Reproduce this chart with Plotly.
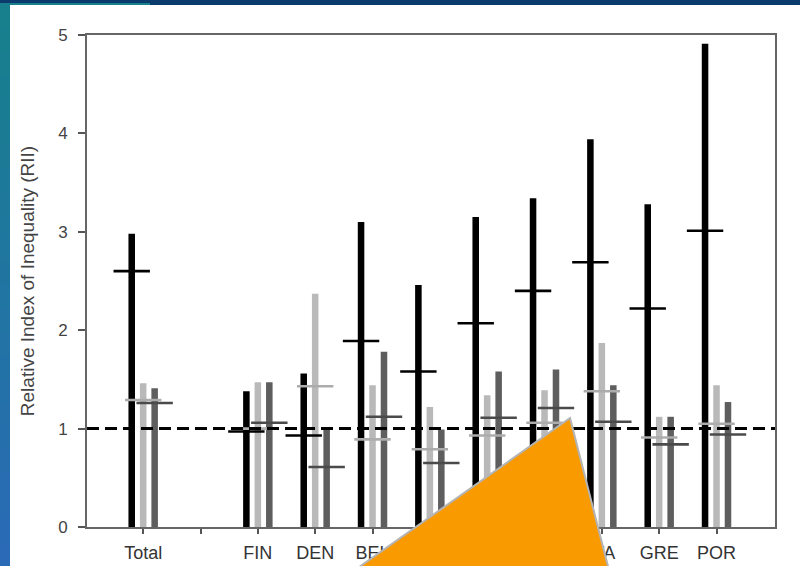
import plotly.graph_objects as go

# ---------------- data ----------------
categories = ["Total", "", "FIN", "DEN", "BEL", "NET", "GER", "FRA", "ITA", "GRE", "POR"]
positions = list(range(len(categories)))

black_top = [2.98, None, 1.38, 1.56, 3.10, 2.46, 3.15, 3.34, 3.94, 3.28, 4.91]
black_est = [2.60, None, 0.97, 0.93, 1.89, 1.58, 2.07, 2.40, 2.69, 2.22, 3.01]
light_top = [1.46, None, 1.47, 2.37, 1.44, 1.22, 1.34, 1.39, 1.87, 1.12, 1.44]
light_est = [1.29, None, 1.00, 1.43, 0.89, 0.79, 0.93, 1.06, 1.38, 0.91, 1.05]
dark_top = [1.41, None, 1.47, 0.99, 1.78, 0.99, 1.58, 1.60, 1.44, 1.12, 1.27]
dark_est = [1.26, None, 1.06, 0.61, 1.12, 0.65, 1.11, 1.21, 1.07, 0.84, 0.94]

y_ticks = [0, 1, 2, 3, 4, 5]
ref_line = 1.0
y_title = "Relative Index of Inequality (RII)"

# ---------------- layout geometry ----------------
W, H = 800, 566
L, R, T, B = 87, 25, 35, 39
PW, PH = W - L - R, H - T - B


def px(x):
    return (x - L) / PW


def py(y):
    return (H - B - y) / PH


series = [
    ("black", black_top, black_est, "#000000", "#000000"),
    ("light", light_top, light_est, "#b9b9b9", "#acacac"),
    ("dark", dark_top, dark_est, "#5e5e5e", "#4a4a4a"),
]

fig = go.Figure()
for name, tops, ests, col, mcol in series:
    fig.add_trace(go.Bar(
        x=positions, y=tops, name=name, offsetgroup=name,
        marker=dict(color=col, line=dict(width=0)), showlegend=False,
        hoverinfo="skip",
    ))
for name, tops, ests, col, mcol in series:
    fig.add_trace(go.Scatter(
        x=positions, y=ests, mode="markers", offsetgroup=name, showlegend=False,
        hoverinfo="skip",
        marker=dict(symbol="line-ew", size=26, color=mcol,
                    line=dict(color=mcol, width=2.6)),
    ))

shapes = []
# reference line
shapes.append(dict(type="line", xref="paper", yref="y", x0=0, x1=1,
                   y0=ref_line, y1=ref_line,
                   line=dict(color="#000000", width=3, dash="12px,6px"),
                   layer="above"))

# slide decorations: top band
shapes.append(dict(type="rect", xref="paper", yref="paper",
                   x0=px(0), x1=px(W), y0=py(0), y1=py(5),
                   fillcolor="#0b3a6c", line=dict(width=0), layer="above"))
shapes.append(dict(type="rect", xref="paper", yref="paper",
                   x0=px(0), x1=px(150), y0=py(3), y1=py(5),
                   fillcolor="#17808c", line=dict(width=0), layer="above"))
# left strip gradient teal -> blue
n = 24
c0 = (0x17, 0x80, 0x8c)
c1 = (0x2a, 0x6a, 0xb6)
for i in range(n):
    t = i / (n - 1)
    c = tuple(int(round(a + (b - a) * t)) for a, b in zip(c0, c1))
    y0 = 5 + (H - 5) * i / n
    y1 = 5 + (H - 5) * (i + 1) / n + 1
    shapes.append(dict(type="rect", xref="paper", yref="paper",
                       x0=px(0), x1=px(10), y0=py(y0), y1=py(y1),
                       fillcolor="rgb(%d,%d,%d)" % c, line=dict(width=0),
                       layer="above"))

# orange occluding triangle
tri = [(570, 418), (338, 582), (612, 582)]
path = "M {} {} L {} {} L {} {} Z".format(
    px(tri[0][0]), py(tri[0][1]), px(tri[1][0]), py(tri[1][1]),
    px(tri[2][0]), py(tri[2][1]))
shapes.append(dict(type="path", xref="paper", yref="paper", path=path,
                   fillcolor="#f89a00", line=dict(color="#b4b4b4", width=2),
                   layer="above"))

fig.update_layout(
    width=W, height=H,
    margin=dict(l=L, r=R, t=T, b=B, pad=0, autoexpand=False),
    paper_bgcolor="#ffffff", plot_bgcolor="#ffffff",
    barmode="group", bargap=0.4, bargroupgap=0.43,
    scattermode="group", scattergap=0.4,
    font=dict(family="Liberation Sans, Arial, sans-serif", color="#333333", size=17),
    shapes=shapes,
    showlegend=False,
    hovermode=False,
)
fig.update_xaxes(
    range=[-0.98, 11.02], tickmode="array", tickvals=positions, ticktext=categories,
    ticks="outside", ticklen=5, tickwidth=1.5, tickcolor="#555555",
    ticklabelstandoff=3, automargin=False,
    showline=True, linecolor="#666666", linewidth=2, mirror=True,
    showgrid=False, zeroline=False, fixedrange=True,
    tickfont=dict(size=18, color="#333333"),
)
fig.update_yaxes(
    range=[0, 5], tickmode="array", tickvals=y_ticks,
    ticks="outside", ticklen=7, tickwidth=1.5, tickcolor="#555555",
    ticklabelstandoff=7, automargin=False,
    showline=True, linecolor="#666666", linewidth=2, mirror=True,
    showgrid=False, zeroline=False, fixedrange=True,
    tickfont=dict(size=17, color="#444444"),
    title=dict(text=y_title, font=dict(size=19, color="#444444"), standoff=18),
)

fig.write_html("out.html", config={"displayModeBar": False},
               post_script="document.body.style.margin='0';")
